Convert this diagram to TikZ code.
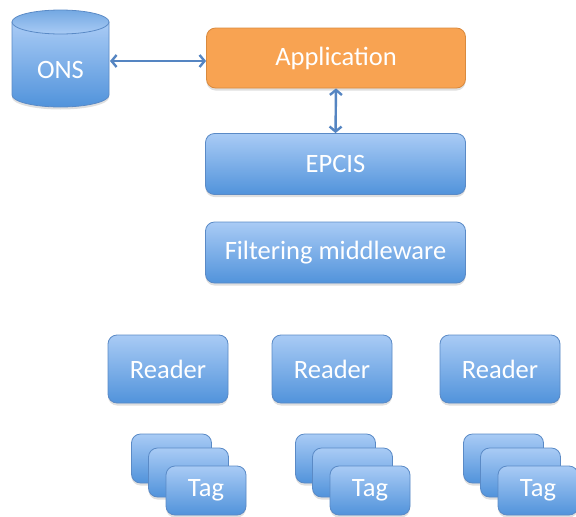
\documentclass[tikz,border=0pt]{standalone}
\usepackage{fontspec}
\setmainfont{Carlito}
\usetikzlibrary{arrows.meta,shadows}
\definecolor{bluetop}{HTML}{A9CBF5}
\definecolor{bluebot}{HTML}{5193DB}
\definecolor{blueedge}{HTML}{5A8AC6}
\definecolor{orfill}{HTML}{F8A352}
\definecolor{oredge}{HTML}{D98A3E}
\definecolor{arrowcol}{HTML}{5585C2}
\tikzset{
  box/.style={rounded corners=9pt, draw=blueedge, line width=0.8pt,
    top color=bluetop, bottom color=bluebot, text=white,
    font=\fontsize{26.5}{30}\selectfont, inner sep=0pt,
    drop shadow={shadow xshift=0pt, shadow yshift=-2.5pt, opacity=0.25, fill=gray}},
  orbox/.style={box, top color=orfill, bottom color=orfill, draw=oredge},
  tagbox/.style={box, minimum width=80pt, minimum height=49pt},
  readerbox/.style={box, minimum width=120pt, minimum height=68pt},
  wide/.style={box, minimum width=260pt, minimum height=61pt},
  link/.style={draw=arrowcol, line width=2.4pt, {Straight Barb[length=5pt,width=12pt]}-{Straight Barb[length=5pt,width=12pt]}}
}
\begin{document}
\begin{tikzpicture}[x=1pt,y=-1pt]
\useasboundingbox (0,0) rectangle (576,517);
% ONS cylinder
\begin{scope}
\fill[gray, opacity=0.25] (12,24) -- (12,97.5) arc[start angle=180,end angle=360,x radius=48.5pt,y radius=12pt] -- (109,24) -- cycle;
\shade[top color=bluetop, bottom color=bluebot, draw=blueedge, line width=0.8pt]
  (12,22) -- (12,95) arc[start angle=180,end angle=360,x radius=48.5pt,y radius=12pt] -- (109,22) -- cycle;
\shade[top color=bluebot!80!white, bottom color=bluetop, draw=blueedge, line width=0.8pt]
  (60.5,22) ellipse[x radius=48.5pt, y radius=12pt];
\end{scope}
\node[text=white, font=\fontsize{26.5}{30}\selectfont] (ons) at (60.5,70) {ONS};
\coordinate (onsr) at (110,61);
\node[orbox, minimum width=259pt, minimum height=60pt] (app) at (336,58) {Application};
\node[wide] (epcis) at (335.5,164) {EPCIS};
\node[wide] (filt) at (335.5,252.5) {Filtering middleware};
\foreach \i/\dx in {1/0,2/164,3/332}{
  \node[readerbox] (reader\i) at (168+\dx,369) {Reader};
  \node[tagbox] (tag\i a) at (171.5+\dx,458.5) {};
  \node[tagbox] (tag\i b) at (188.5+\dx,472.5) {};
  \node[tagbox] (tag\i c) at (206+\dx,490.5) {Tag};
}
\draw[link] (onsr) -- (app.west |- onsr);
\draw[link] (app.south) -- (epcis.north);
\end{tikzpicture}
\end{document}
